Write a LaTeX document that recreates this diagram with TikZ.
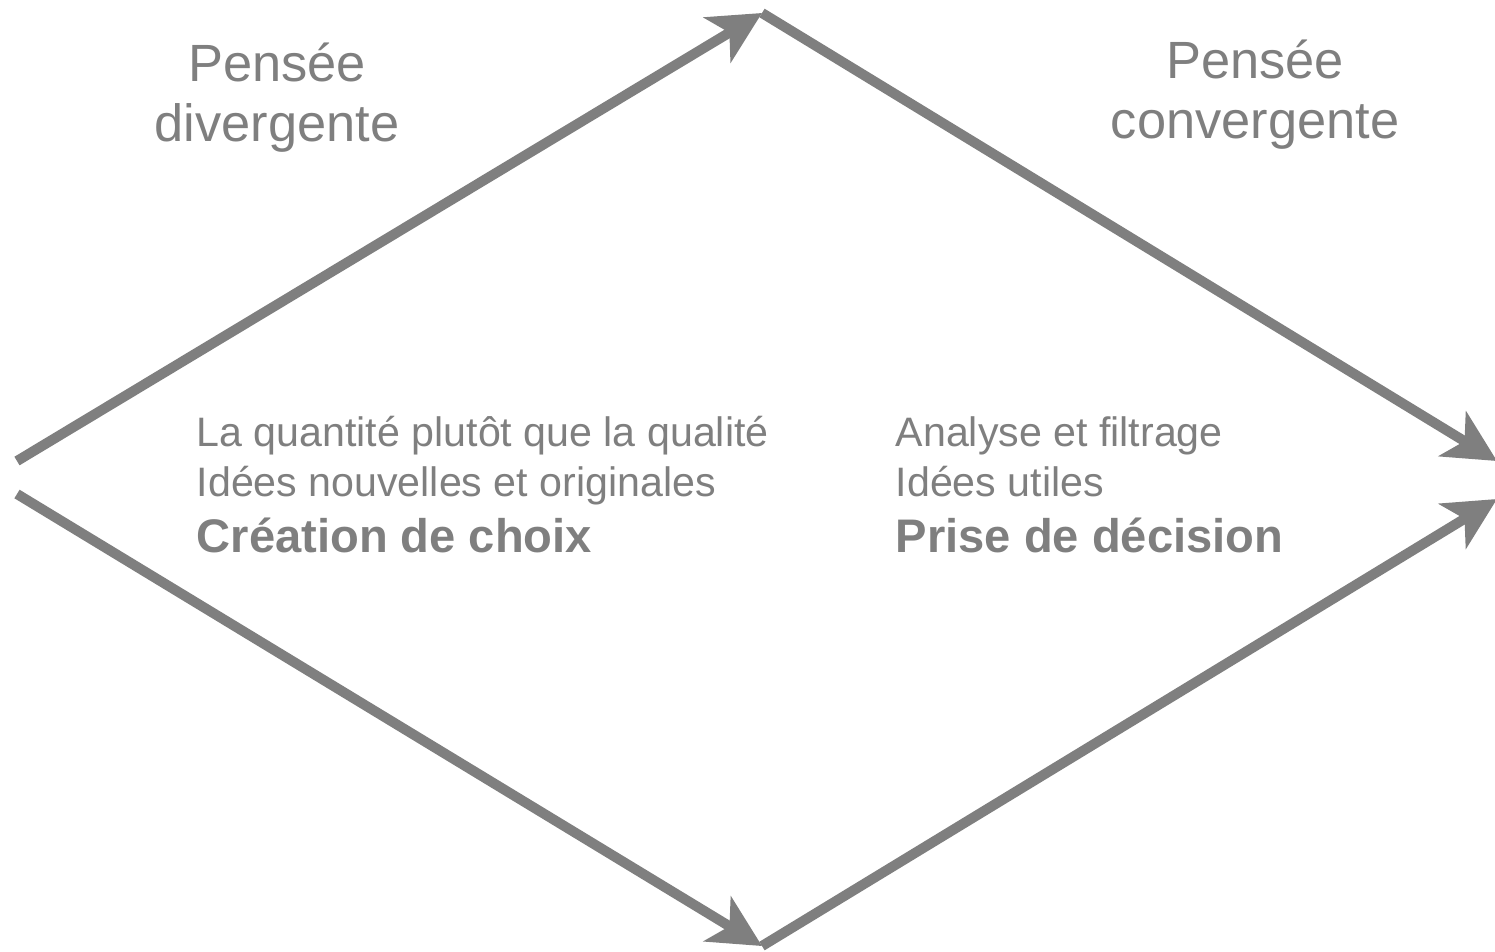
\documentclass[tikz,border=0pt]{standalone}
\usepackage{fontspec}
\setmainfont{Liberation Sans}
\usetikzlibrary{arrows.meta}
\definecolor{gris}{HTML}{7F7F7F}
\tikzset{
  fleche/.style={draw=gris, line width=2.85pt, -{Stealth[length=0.52cm,width=0.52cm,inset=0.14cm]}},
  titre/.style={text=gris, font=\fontsize{14.9}{17}\selectfont, anchor=base, inner sep=0pt},
  texte/.style={text=gris, font=\fontsize{11.7}{14}\selectfont, anchor=base west, inner sep=0pt},
  gras/.style={texte, font=\fontsize{13.4}{16}\selectfont\bfseries},
}

\begin{document}
\begin{tikzpicture}[x=0.01cm,y=-0.01cm]
\useasboundingbox (0,0) rectangle (1495,951);
\coordinate (gauche haut) at (17,461);
\coordinate (sommet) at (762,13);
\coordinate (droite haut) at (1497,461);
\coordinate (gauche bas) at (17,494);
\coordinate (fond) at (762,946);
\coordinate (droite bas) at (1497,499);

\draw[fleche] (gauche haut) -- (sommet);
\draw[fleche] (sommet) -- (droite haut);
\draw[fleche] (gauche bas) -- (fond);
\draw[fleche] (fond) -- (droite bas);

\node[titre] (div1) at (277,81) {Pensée};
\node[titre] (div2) at (277,141) {divergente};
\node[titre] (conv1) at (1255,78) {Pensée};
\node[titre] (conv2) at (1255,138) {convergente};

\node[texte] (quant) at (196,446) {La quantité plutôt que la qualité};
\node[texte] (idees) at (196,496) {Idées nouvelles et originales};
\node[gras] (creation) at (196,552) {Création de choix};
\node[texte] (analyse) at (895,446) {Analyse et filtrage};
\node[texte] (utiles) at (895,496) {Idées utiles};
\node[gras] (prise) at (895,552) {Prise de décision};
\end{tikzpicture}
\end{document}
